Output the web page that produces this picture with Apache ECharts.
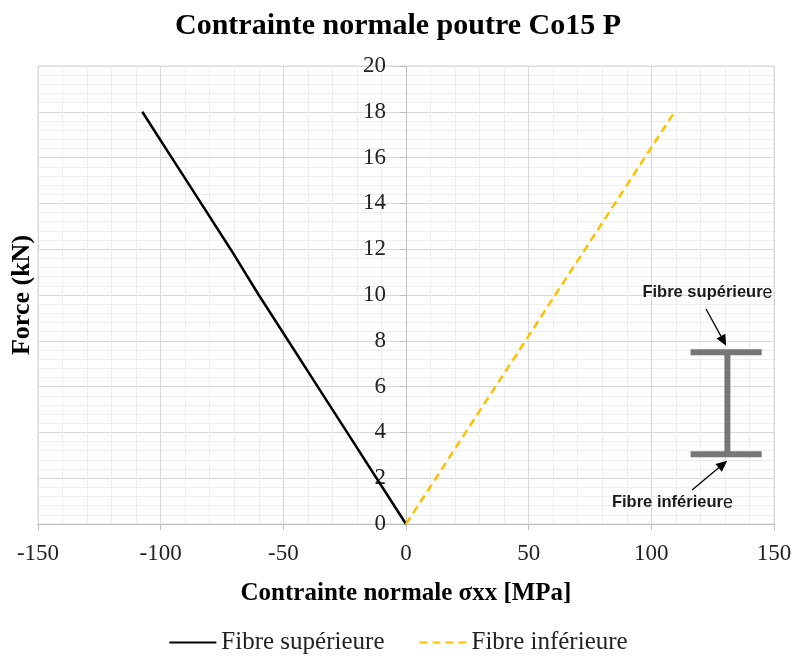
<!DOCTYPE html>
<html>
<head>
<meta charset="utf-8">
<script src="https://cdn.jsdelivr.net/npm/echarts@6/dist/echarts.min.js"></script>
<style>
html,body{margin:0;padding:0;background:#fff;}
#chart{width:796px;height:662px;}
</style>
</head>
<body>
<div id="chart"></div>
<script>
// ---- data ----
const seriesNames = ['Fibre supérieure', 'Fibre inférieure'];
const forceSup = [0, 2, 4, 6, 8, 10, 12, 14, 16, 17, 18];
const sigmaSup = [0, -12, -24, -36, -48, -60, -71.5, -83.5, -95.5, -101.5, -107.5];
const forceInf = [0, 2, 4, 6, 8, 10, 12, 14, 16, 18];
const sigmaInf = [0, 12.2, 24.3, 36.5, 48.7, 60.8, 73, 85.2, 97.3, 109.5];
const xTicks = [-150, -100, -50, 0, 50, 100, 150];
const yTicks = [0, 2, 4, 6, 8, 10, 12, 14, 16, 18, 20];
const titleText = 'Contrainte normale poutre Co15 P';
const xName = 'Contrainte normale σxx [MPa]';
const yName = 'Force (kN)';
const noteTop = ['Fibre supérieur', 'e'];
const noteBottom = ['Fibre inférieur', 'e'];

const serif = '"Liberation Serif", "DejaVu Serif", serif';
const sans = '"Liberation Sans", Arial, sans-serif';

const chart = echarts.init(document.getElementById('chart'), null, {renderer: 'canvas'});

const gridLeft = 38, gridRight = 22, gridWidth = 796 - gridLeft - gridRight;
const xMin = xTicks[0], xMax = xTicks[xTicks.length - 1];
// y axis crosses at x = 0: offset from the left edge of the grid
const yAxisOffset = -gridWidth * (0 - xMin) / (xMax - xMin);

const option = {
  backgroundColor: '#ffffff',
  animation: false,
  title: {
    text: titleText,
    left: 'center',
    top: 6,
    textStyle: {fontFamily: serif, fontWeight: 'bold', fontSize: 30, color: '#000'}
  },
  grid: {
    left: gridLeft, right: gridRight, top: 66, bottom: 138,
    outerBoundsMode: 'none',
    containLabel: false,
    show: true, borderColor: '#d9d9d9', borderWidth: 1
  },
  legend: {
    top: 625,
    left: 'center',
    itemWidth: 47,
    itemHeight: 12,
    itemGap: 34,
    itemStyle: {opacity: 0},
    textStyle: {fontFamily: serif, fontSize: 25, color: '#222'},
    data: seriesNames
  },
  xAxis: {
    type: 'value',
    min: xMin, max: xMax, interval: 50,
    name: xName,
    nameLocation: 'middle',
    nameGap: 57,
    nameTextStyle: {fontFamily: serif, fontWeight: 'bold', fontSize: 25, color: '#000'},
    axisLine: {onZero: false, lineStyle: {color: '#bfbfbf', width: 1}},
    axisTick: {show: true, length: 6, lineStyle: {color: '#bfbfbf'}},
    axisLabel: {fontFamily: serif, fontSize: 23, color: '#222', margin: 18},
    splitLine: {show: true, lineStyle: {color: '#d9d9d9', width: 1}},
    minorTick: {show: false, splitNumber: 5},
    minorSplitLine: {show: true, lineStyle: {color: '#eeeeee', width: 1}}
  },
  yAxis: {
    type: 'value',
    min: yTicks[0], max: yTicks[yTicks.length - 1], interval: 2,
    offset: yAxisOffset,
    name: yName,
    nameLocation: 'middle',
    nameRotate: 90,
    nameGap: 371,
    nameTextStyle: {fontFamily: serif, fontWeight: 'bold', fontSize: 26, color: '#000'},
    axisLine: {show: true, onZero: false, lineStyle: {color: '#bfbfbf', width: 1}},
    axisTick: {show: true, length: 7, lineStyle: {color: '#bfbfbf'}},
    axisLabel: {fontFamily: serif, fontSize: 23, color: '#222', margin: 20},
    splitLine: {show: true, lineStyle: {color: '#d9d9d9', width: 1}},
    minorTick: {show: false, splitNumber: 5},
    minorSplitLine: {show: true, lineStyle: {color: '#eeeeee', width: 1}}
  },
  series: [
    {
      name: seriesNames[0],
      type: 'line',
      symbol: 'none',
      data: sigmaSup.map((s, i) => [s, forceSup[i]]),
      lineStyle: {color: '#000000', width: 2.5},
      itemStyle: {color: '#000000'}
    },
    {
      name: seriesNames[1],
      type: 'line',
      symbol: 'none',
      data: sigmaInf.map((s, i) => [s, forceInf[i]]),
      lineStyle: {color: '#FFC000', width: 2.5, type: [8, 5]},
      itemStyle: {color: '#FFC000'}
    }
  ]
};
chart.setOption(option);

// annotation (I-beam sketch) placed in data units
const beamX = 131, beamLeft = 116, beamRight = 145, beamTop = 7.5, beamBottom = 3.05;
function px(x, y) { return chart.convertToPixel({gridIndex: 0}, [x, y]); }
function arrow(p0, p1) {
  const dx = p1[0] - p0[0], dy = p1[1] - p0[1];
  const L = Math.sqrt(dx * dx + dy * dy);
  const ux = dx / L, uy = dy / L;
  const hl = 11, hw = 5;
  const bx = p1[0] - ux * hl, by = p1[1] - uy * hl;
  return [
    {type: 'line', shape: {x1: p0[0], y1: p0[1], x2: bx, y2: by}, style: {stroke: '#000', lineWidth: 1.3}},
    {type: 'polygon', shape: {points: [[p1[0], p1[1]], [bx - uy * hw, by + ux * hw], [bx + uy * hw, by - ux * hw]]}, style: {fill: '#000'}}
  ];
}
const tl = px(beamLeft, beamTop), tr = px(beamRight, beamTop);
const bl = px(beamLeft, beamBottom), br = px(beamRight, beamBottom);
const wc = px(beamX, beamTop), wb = px(beamX, beamBottom);
const th = 6;
const gray = '#767676';
function note(parts, pos) {
  return {type: 'text', x: pos[0], y: pos[1],
    style: {
      text: '{b|' + parts[0] + '}{n|' + parts[1] + '}',
      align: 'center', verticalAlign: 'middle',
      rich: {
        b: {fontFamily: sans, fontWeight: 'bold', fontSize: 16.5, fill: '#1a1a1a', color: '#1a1a1a'},
        n: {fontFamily: sans, fontWeight: 'normal', fontSize: 18, fill: '#1a1a1a', color: '#1a1a1a'}
      }
    }};
}
const g = [
  {type: 'rect', shape: {x: tl[0], y: tl[1] - th / 2, width: tr[0] - tl[0], height: th}, style: {fill: gray}},
  {type: 'rect', shape: {x: bl[0], y: bl[1] - th / 2, width: br[0] - bl[0], height: th}, style: {fill: gray}},
  {type: 'rect', shape: {x: wc[0] - th / 2, y: wc[1], width: th, height: wb[1] - wc[1]}, style: {fill: gray}},
  ...arrow(px(122.3, 9.39), px(130.5, 7.78)),
  ...arrow(px(116.6, 1.48), px(130.9, 2.76)),
  note(noteTop, px(122.9, 10.1)),
  note(noteBottom, px(108.6, 0.92))
];
chart.setOption({graphic: g});
</script>
</body>
</html>
